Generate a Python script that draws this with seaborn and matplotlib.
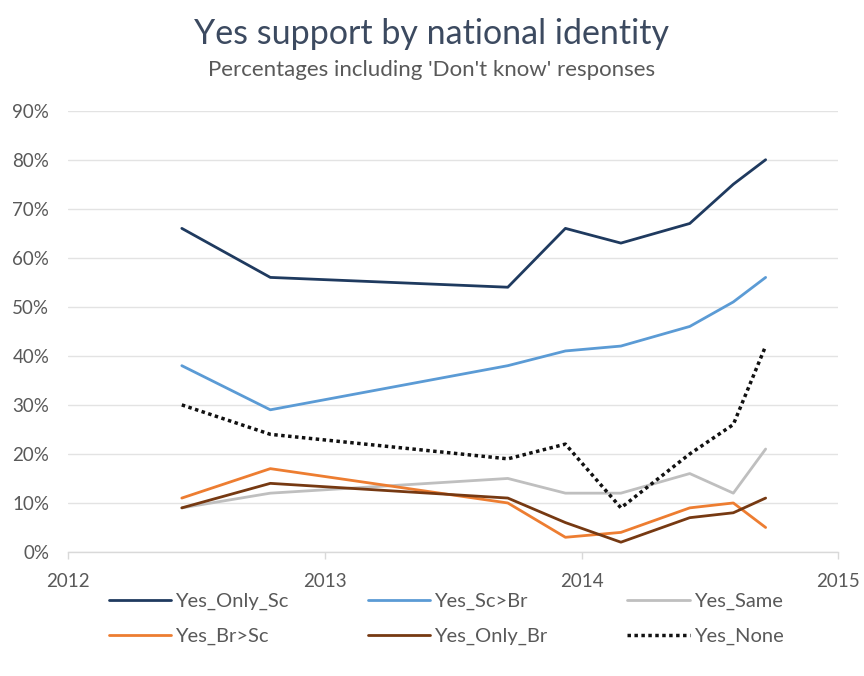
import matplotlib
matplotlib.use("Agg")
import matplotlib.pyplot as plt
import matplotlib.dates as mdates
from matplotlib.ticker import PercentFormatter
import seaborn as sns
import pandas as pd

# Poll fieldwork dates
dates = ["2012-06-11", "2012-10-15", "2013-09-18", "2013-12-09",
         "2014-02-26", "2014-06-04", "2014-08-05", "2014-09-20"]

# Yes share (%) within each national identity group
yes_only_sc = [66, 56, 54, 66, 63, 67, 75, 80]
yes_sc_br = [38, 29, 38, 41, 42, 46, 51, 56]
yes_same = [9, 12, 15, 12, 12, 16, 12, 21]
yes_br_sc = [11, 17, 10, 3, 4, 9, 10, 5]
yes_only_br = [9, 14, 11, 6, 2, 7, 8, 11]
yes_none = [30, 24, 19, 22, 9, 20, 26, 42]

series_names = ["Yes_Only_Sc", "Yes_Sc>Br", "Yes_Same",
                "Yes_Br>Sc", "Yes_Only_Br", "Yes_None"]
series_values = [yes_only_sc, yes_sc_br, yes_same, yes_br_sc, yes_only_br, yes_none]
colors = ["#1f3a5f", "#5b9bd5", "#bfbfbf", "#ed7d31", "#763912", "#111111"]

frames = []
for name, vals in zip(series_names, series_values):
    frames.append(pd.DataFrame({"date": pd.to_datetime(dates), "value": vals, "series": name}))
df = pd.concat(frames, ignore_index=True)

sns.set_theme(style="white")
plt.rcParams["font.family"] = ["Lato", "DejaVu Sans"]

fig = plt.figure(figsize=(8.64, 6.76), dpi=100)
ax = fig.add_axes([68 / 864, 1 - 552 / 676, (838 - 68) / 864, (552 - 110.7) / 676])

dash_map = {n: "" for n in series_names}
dash_map["Yes_None"] = (1, 1)
sns.lineplot(data=df, x="date", y="value", hue="series", style="series",
             hue_order=series_names, style_order=series_names,
             palette=dict(zip(series_names, colors)), dashes=dash_map,
             linewidth=2.0, legend=False, ax=ax)
for ln in ax.lines:
    ln.set_solid_joinstyle("round")
    ln.set_solid_capstyle("round")
ax.lines[-1].set_linewidth(2.5)
ax.lines[-1].set_dash_capstyle("butt")

ax.set_ylim(0, 90)
ax.set_yticks(range(0, 91, 10))
ax.yaxis.set_major_formatter(PercentFormatter(decimals=0))
ax.set_xlim(pd.Timestamp("2012-01-01"), pd.Timestamp("2015-01-01"))
ax.xaxis.set_major_locator(mdates.YearLocator())
ax.xaxis.set_major_formatter(mdates.DateFormatter("%Y"))
ax.set_xlabel("")
ax.set_ylabel("")

ax.grid(axis="y", color="#e3e3e3", linewidth=1.0)
ax.grid(axis="x", visible=False)
for side in ["top", "right", "left"]:
    ax.spines[side].set_visible(False)
ax.spines["bottom"].set_color("#d9d9d9")
ax.spines["bottom"].set_linewidth(1.0)
ax.tick_params(axis="y", length=0, pad=13.5, labelsize=13.5, labelcolor="#595959")
ax.tick_params(axis="x", length=5, width=1, color="#d9d9d9", pad=10,
               labelsize=13.5, labelcolor="#595959", bottom=True)

fig.text(0.5, 1 - 34 / 676, "Yes support by national identity", ha="center", va="center",
         fontsize=24.5, color="#3c4a60")
fig.text(0.5, 1 - 70 / 676, "Percentages including 'Don't know' responses", ha="center",
         va="center", fontsize=16, color="#595959")

# legend laid out row by row: matplotlib fills columns first
handles = ax.lines[:6]
order = [0, 3, 1, 4, 2, 5]
leg = fig.legend([handles[i] for i in order], [series_names[i] for i in order],
                 ncol=3, loc="center", bbox_to_anchor=(446 / 864, 1 - 619 / 676),
                 frameon=False, fontsize=14.5, labelcolor="#595959",
                 handlelength=3.1, handletextpad=0.2, columnspacing=3.95,
                 labelspacing=0.9)

fig.savefig("out.png", dpi=100, facecolor="white")
